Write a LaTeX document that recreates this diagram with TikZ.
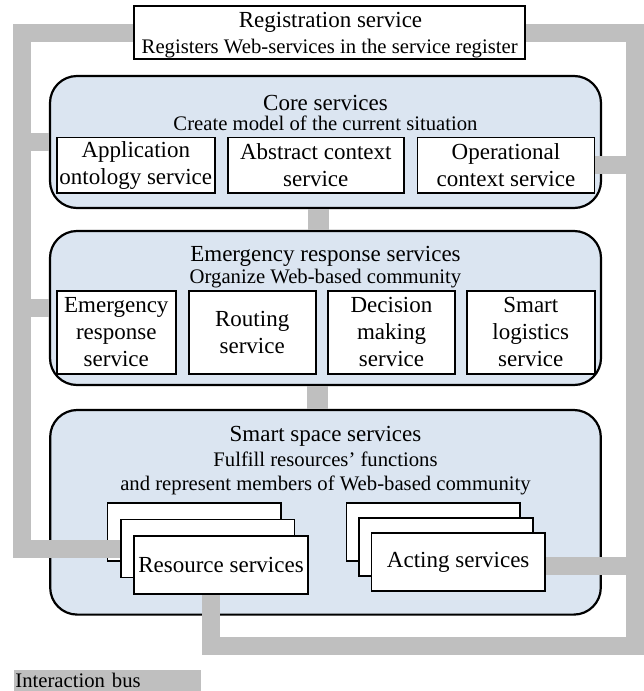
\documentclass[tikz,border=0pt]{standalone}
\usepackage{fontspec}
\setmainfont{Liberation Serif}
\definecolor{groupblue}{RGB}{219,229,241}
\definecolor{busgrey}{RGB}{191,191,191}
\pgfdeclarelayer{back}
\pgfdeclarelayer{wires}
\pgfsetlayers{back,wires,main}
\begin{document}
\begin{tikzpicture}[x=0.5pt,y=-0.5pt,
  every node/.style={font=\fontsize{11.5}{13.5}\selectfont},
  groupbox/.style={draw,line width=1.1pt,rounded corners=13.5pt,fill=groupblue,inner sep=0pt},
  svc/.style={draw,line width=0.9pt,fill=white,align=center,inner sep=0pt},
  head/.style={inner sep=0pt,anchor=base},
  note/.style={head,font=\fontsize{10.35}{12}\selectfont},
  stackbox/.style={svc,minimum width=86.8pt,minimum height=29pt},
  bus/.style={draw=busgrey,line width=9pt,line join=miter}]
\pgfmathsetmacro{\xc}{325.5}
\pgfmathsetmacro{\ycore}{165.1}
\pgfmathsetmacro{\yer}{332.4}
\useasboundingbox (0,0) rectangle (643,691);

\begin{pgfonlayer}{back}
  \node[groupbox,minimum width=275.5pt,minimum height=66pt] (core) at (\xc,142) {};
  \node[groupbox,minimum width=275.5pt,minimum height=77pt] (er) at (\xc,308) {};
  \node[groupbox,minimum width=275.3pt,minimum height=102.3pt] (smart) at (\xc,512.3) {};
  \node[stackbox] (resA) at (194.3,532.3) {};
  \node[stackbox] (actA) at (433.3,532.3) {};
\end{pgfonlayer}

  \node[svc,minimum width=195.4pt,minimum height=26.8pt] (reg) at (329.7,32.5) {};
  \node[head] (regtitle) at (330.5,27.3) {Registration service};
  \node[note] (regnote) at (329.7,53.3) {Registers Web-services in the service register};

  \node[head] (coretitle) at (\xc,110) {Core services};
  \node[note] (corenote) at (\xc,130.7) {Create model of the current situation};
  \node[svc,minimum width=79.2pt,minimum height=27.6pt] (app) at (135.8,\ycore) {Application\\ontology service};
  \node[svc,minimum width=88.2pt,minimum height=27.6pt] (abs) at (315.8,\ycore) {Abstract context\\service};
  \node[svc,minimum width=88.5pt,minimum height=27.6pt] (op) at (506,\ycore) {Operational\\context service};

  \node[head] (ertitle) at (\xc,261.7) {Emergency response services};
  \node[note] (ernote) at (\xc,283.3) {Organize Web-based community};
  \node[svc,minimum width=59.7pt,minimum height=41.7pt] (ers) at (116.3,\yer) {Emergency\\response\\service};
  \node[svc,minimum width=63.5pt,minimum height=41.7pt] (rout) at (252.2,\yer) {Routing\\service};
  \node[svc,minimum width=63.5pt,minimum height=41.7pt] (dec) at (391.5,\yer) {Decision\\making\\service};
  \node[svc,minimum width=63.8pt,minimum height=41.7pt] (logi) at (530.8,\yer) {Smart\\logistics\\service};

  \node[head] (smarttitle) at (\xc,441.7) {Smart space services};
  \node[note] (smartnote) at (\xc,466.7) {Fulfill resources' functions};
  \node[note] (smartnotex) at (\xc,490.7) {and represent members of Web-based community};
  \node[stackbox] (resB) at (207.6,548.5) {};
  \node[stackbox] (resC) at (221,564.7) {Resource services};
  \node[stackbox] (actB) at (445.9,546.7) {};
  \node[stackbox] (actC) at (458.2,562.3) {Acting services};

  \coordinate (busL) at (22.4,31.2);
  \coordinate (busR) at (634.8,31.2);
  \coordinate (busBR) at (634.8,645.8);

\begin{pgfonlayer}{wires}
  \draw[bus] (reg.west) -| (busL |- resB.west) -- (resB.west);
  \draw[bus] (busL |- core.west) -- (core.west);
  \draw[bus] (busL |- er.west) -- (er.west);
  \draw[bus] (reg.east) -| (busBR) -| ([xshift=-5.25pt]resC.south);
  \draw[bus] (busR |- op.east) -- (op.east);
  \draw[bus] (busR |- actC.east) ++(0,4) -- ([yshift=-2pt]actC.east);
  \draw[bus,line width=10.5pt] ([xshift=-3.75pt]core.south) -- ([xshift=-3.75pt]er.north);
  \draw[bus,line width=10.5pt] ([xshift=-4pt]er.south) -- ([xshift=-4pt]smart.north);
\end{pgfonlayer}

  \node[fill=busgrey,anchor=west,minimum height=10.35pt,inner sep=0.5pt,
    text width=92.5pt,align=left,font=\fontsize{10.35}{12}\selectfont] (key) at (14,680.3) {Interaction bus};
\end{tikzpicture}
\end{document}
